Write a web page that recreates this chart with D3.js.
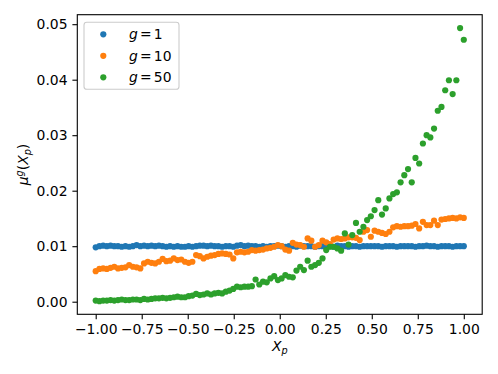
<!DOCTYPE html>
<html>
<head>
<meta charset="utf-8">
<script src="https://cdn.jsdelivr.net/npm/d3@7"></script>
<style>
  body { margin: 0; background: #fff; }
  text { font-family: "DejaVu Sans", sans-serif; fill: #000; }
</style>
</head>
<body>
<div id="chart"></div>
<script>
// values, 100 points on x from -1 to 1
const seriesNames = ["1", "10", "50"];
const seriesColors = ["#1f77b4", "#ff7f0e", "#2ca02c"];

const g1 = [
  0.0098, 0.0100, 0.0101, 0.0100, 0.0101, 0.0100, 0.0100, 0.0099, 0.0100, 0.0099,
  0.0100, 0.0102, 0.0100, 0.0101, 0.0100, 0.0101, 0.0100, 0.0101, 0.0100, 0.0099,
  0.0100, 0.0099, 0.0100, 0.0099, 0.0099, 0.0100, 0.0099, 0.0100, 0.0101, 0.0101,
  0.0100, 0.0101, 0.0100, 0.0100, 0.0099, 0.0100, 0.0100, 0.0099, 0.0101, 0.0102,
  0.0100, 0.0101, 0.0100, 0.0100, 0.0099, 0.0100, 0.0099, 0.0100, 0.0100, 0.0101,
  0.0100, 0.0099, 0.0100, 0.0100, 0.0099, 0.0101, 0.0100, 0.0100, 0.0100, 0.0099,
  0.0100, 0.0100, 0.0099, 0.0100, 0.0099, 0.0101, 0.0100, 0.0100, 0.0099, 0.0100,
  0.0100, 0.0099, 0.0100, 0.0100, 0.0100, 0.0100, 0.0100, 0.0099, 0.0100, 0.0100,
  0.0100, 0.0099, 0.0100, 0.0100, 0.0100, 0.0100, 0.0099, 0.0100, 0.0100, 0.0101,
  0.0100, 0.0100, 0.0099, 0.0100, 0.0100, 0.0100, 0.0099, 0.0100, 0.0100, 0.0100
];

const g10 = [
  0.0055, 0.0059, 0.0060, 0.0059, 0.0061, 0.0063, 0.0060, 0.0061, 0.0062, 0.0066,
  0.0063, 0.0062, 0.0060, 0.0069, 0.0072, 0.0070, 0.0069, 0.0072, 0.0077, 0.0073,
  0.0074, 0.0078, 0.0075, 0.0076, 0.0072, 0.0070, 0.0072, 0.0084, 0.0082, 0.0078,
  0.0081, 0.0083, 0.0084, 0.0086, 0.0087, 0.0086, 0.0085, 0.0078, 0.0089, 0.0090,
  0.0089, 0.0090, 0.0093, 0.0092, 0.0093, 0.0094, 0.0096, 0.0097, 0.0099, 0.0102,
  0.0100, 0.0094, 0.0092, 0.0106, 0.0103, 0.0102, 0.0099, 0.0114, 0.0110, 0.0099,
  0.0102, 0.0110, 0.0107, 0.0104, 0.0112, 0.0114, 0.0113, 0.0114, 0.0116, 0.0116,
  0.0115, 0.0111, 0.0126, 0.0129, 0.0117, 0.0128, 0.0126, 0.0124, 0.0122, 0.0126,
  0.0134, 0.0136, 0.0135, 0.0136, 0.0136, 0.0137, 0.0140, 0.0132, 0.0144, 0.0138,
  0.0138, 0.0146, 0.0138, 0.0148, 0.0149, 0.0150, 0.0151, 0.0150, 0.0152, 0.0151
];

const g50 = [
  0.0002, 0.0001, 0.0002, 0.0002, 0.0003, 0.0002, 0.0003, 0.0004, 0.0003, 0.0003,
  0.0004, 0.0004, 0.0003, 0.0005, 0.0004, 0.0005, 0.0006, 0.0006, 0.0007, 0.0006,
  0.0007, 0.0008, 0.0009, 0.0008, 0.0008, 0.0010, 0.0011, 0.0014, 0.0012, 0.0013,
  0.0015, 0.0013, 0.0015, 0.0016, 0.0015, 0.0018, 0.0020, 0.0023, 0.0027, 0.0026,
  0.0027, 0.0027, 0.0028, 0.0040, 0.0031, 0.0036, 0.0035, 0.0042, 0.0046, 0.0039,
  0.0042, 0.0048, 0.0045, 0.0044, 0.0056, 0.0063, 0.0057, 0.0074, 0.0063, 0.0066,
  0.0070, 0.0078, 0.0093, 0.0099, 0.0099, 0.0096, 0.0092, 0.0123, 0.0103, 0.0120,
  0.0142, 0.0126, 0.0135, 0.0147, 0.0154, 0.0165, 0.0183, 0.0157, 0.0168, 0.0186,
  0.0194, 0.0197, 0.0215, 0.0228, 0.0239, 0.0215, 0.0259, 0.0249, 0.0285, 0.0300,
  0.0296, 0.0312, 0.0344, 0.0351, 0.0381, 0.0399, 0.0374, 0.0399, 0.0493, 0.0472
];

const xTicks = [-1, -0.75, -0.5, -0.25, 0, 0.25, 0.5, 0.75, 1];
const yTicks = [0, 0.01, 0.02, 0.03, 0.04, 0.05];

const width = 498, height = 374;
const plot = {left: 77.3, right: 482.2, top: 14.7, bottom: 314.3};
const fontSize = 13.9;
const markerR = 3.1;

const svg = d3.select("#chart").append("svg")
    .attr("width", width)
    .attr("height", height);

const x = d3.scaleLinear().domain([-1.1, 1.1]).range([plot.left, plot.right]);
const y = d3.scaleLinear().domain([-0.00227, 0.05171]).range([plot.bottom, plot.top]);

const xs = d3.range(100).map(i => -1 + 2 * i / 99);
const series = [g1, g10, g50];

// points
series.forEach((vals, s) => {
    svg.append("g")
        .selectAll("circle")
        .data(vals)
        .enter()
        .append("circle")
        .attr("cx", (d, i) => x(xs[i]))
        .attr("cy", d => y(d))
        .attr("r", markerR)
        .attr("fill", seriesColors[s]);
});

// axes
const fmt = d3.format(".2f");
const xAxis = svg.append("g")
    .attr("transform", `translate(0,${plot.bottom})`)
    .call(d3.axisBottom(x).tickValues(xTicks).tickFormat(fmt).tickSize(4.9).tickPadding(4.9));
const yAxis = svg.append("g")
    .attr("transform", `translate(${plot.left},0)`)
    .call(d3.axisLeft(y).tickValues(yTicks).tickFormat(fmt).tickSize(4.9).tickPadding(4.9));

[xAxis, yAxis].forEach(a => {
    a.select(".domain").remove();
    a.selectAll("line").attr("stroke", "#000").attr("stroke-width", 1.1);
    a.selectAll("text").attr("font-size", fontSize).attr("font-family", "DejaVu Sans");
});

// frame
svg.append("rect")
    .attr("x", plot.left).attr("y", plot.top)
    .attr("width", plot.right - plot.left).attr("height", plot.bottom - plot.top)
    .attr("fill", "none").attr("stroke", "#000").attr("stroke-width", 1.1);

// axis labels
const xl = svg.append("text")
    .attr("x", (plot.left + plot.right) / 2)
    .attr("y", 351)
    .attr("text-anchor", "middle")
    .attr("font-size", fontSize);
xl.append("tspan").attr("font-style", "italic").text("X");
xl.append("tspan").attr("font-style", "italic").attr("font-size", 9.7).attr("dy", 3).text("p");

const yl = svg.append("text")
    .attr("transform", `translate(28,${(plot.top + plot.bottom) / 2}) rotate(-90)`)
    .attr("text-anchor", "middle")
    .attr("font-size", fontSize);
yl.append("tspan").attr("font-style", "italic").text("μ");
yl.append("tspan").attr("font-style", "italic").attr("font-size", 9.7).attr("dy", -5.5).text("g");
yl.append("tspan").attr("dy", 5.5).text("(");
yl.append("tspan").attr("font-style", "italic").text("X");
yl.append("tspan").attr("font-style", "italic").attr("font-size", 9.7).attr("dy", 3).text("p");
yl.append("tspan").attr("dy", -3).text(")");

// legend
const legend = svg.append("g");
legend.append("rect")
    .attr("x", 84).attr("y", 22.3)
    .attr("width", 95).attr("height", 67)
    .attr("rx", 2.8)
    .attr("fill", "#fff").attr("fill-opacity", 0.8)
    .attr("stroke", "#cccccc").attr("stroke-width", 1.1);

const legendRows = legend.selectAll("g.row")
    .data(seriesNames)
    .enter()
    .append("g")
    .attr("class", "row")
    .attr("transform", (d, i) => `translate(0,${34.3 + i * 21.5})`);

legendRows.append("circle")
    .attr("cx", 103.3).attr("cy", 0).attr("r", markerR)
    .attr("fill", (d, i) => seriesColors[i]);

const lt = legendRows.append("text")
    .attr("x", 129)
    .attr("y", 0)
    .attr("dy", "0.36em")
    .attr("font-size", fontSize);
lt.append("tspan").attr("font-style", "italic").text("g");
lt.append("tspan").attr("dx", 2.2).text("=");
lt.append("tspan").attr("dx", 2.2).text(d => d);
</script>
</body>
</html>
